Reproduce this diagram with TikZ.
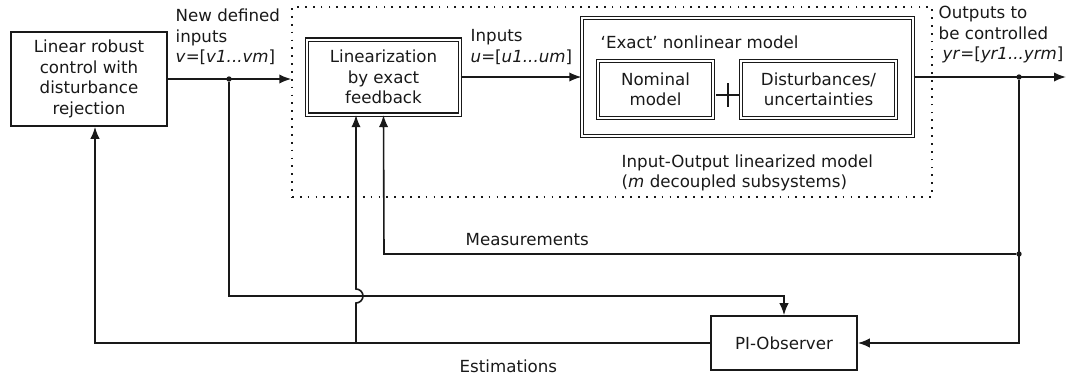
\documentclass[tikz,border=0pt]{standalone}
\usepackage{fontspec}
\setmainfont{DejaVu Sans}
\usetikzlibrary{positioning}
\usetikzlibrary{calc}
\usetikzlibrary{arrows.meta}
\tikzset{
    % Filled arrow heads, as in the drawing
    >={Latex[length=9pt, width=7pt]},
%
    % Plain block with a single border
    block/.style={draw, line width=1.2pt, align=center, inner sep=2pt},
%
    % Block with a double border
    double block/.style={draw, double, double distance=1.5pt,
        line width=0.9pt, align=center, inner sep=2pt},
%
    % Dotted frame round the linearized part
    dotted frame/.style={draw, line width=1.1pt, dash pattern=on 1.3pt off 4.6pt},
%
    % Branching point of a signal
    branch/.style={circle, fill, inner sep=0pt, minimum size=4pt},
%
    % Signal lines
    signal/.style={line width=1.2pt}}

\begin{document}
\begin{tikzpicture}[x=0.75pt, y=-0.75pt, color=black!90,
    font=\fontsize{12.5}{15.4}\selectfont]
\useasboundingbox (0,0) rectangle (1072,375);

% Controller on the left
\node [block, minimum width=117pt, minimum height=70.5pt]
    (control) at (89,79) {Linear robust\\control with\\disturbance\\rejection};
\node [anchor=west, align=left]
    (v label) at (171,37) {New defined\\inputs\\\textit{v}=[\textit{v1...vm}]};

% Input-output linearized part, framed by dots
\node [dotted frame, minimum width=480pt, minimum height=142.5pt]
    (io model) at (612,102) {};
\node [double block, minimum width=114.75pt, minimum height=56.25pt]
    (linearize) at (383.5,77) {Linearization\\by exact\\feedback};
\node [anchor=west, align=left]
    (u label) at (466,47) {Inputs\\\textit{u}=[\textit{u1...um}]};

% Exact model, nominal part plus uncertain part
\node [double block, minimum width=248.25pt, minimum height=88.5pt]
    (exact) at (747.5,77) {};
\node [anchor=west] (exact title) at (596,42) {‘Exact’ nonlinear model};
\node [double block, minimum width=86.25pt, minimum height=42.75pt]
    (nominal) at (655.5,89.5) {Nominal\\model};
\node [double block, minimum width=116.25pt, minimum height=42.75pt]
    (disturb) at (818.5,89.5) {Disturbances/\\uncertainties};
\coordinate (plus) at (728,95);
\draw [signal] ($(plus)+(-12,0)$) -- ($(plus)+(12,0)$)
    ($(plus)+(0,-12)$) -- ($(plus)+(0,12)$);
\node [anchor=west, align=left] (io label) at (617,173)
    {Input-Output linearized model\\(\textit{m} decoupled subsystems)};

% Outputs
\node [anchor=west, align=left] (y label) at (934,35)
    {Outputs to\\be controlled\\\hspace{3pt}\textit{yr}=[\textit{yr1...yrm}]};

% Observer
\node [block, minimum width=109.5pt, minimum height=40.5pt]
    (observer) at (784,343) {PI-Observer};

% Forward path
\draw [signal, ->] (control.east) -- (control.east -| io model.west);
\node [branch] (v split) at (229,79) {};
\draw [signal, ->] (linearize.east) -- (exact.west);
\node [branch] (y split) at (1019,77) {};
\coordinate (y end) at (1066,77);
\draw [signal, ->] (exact.east) -- (y end);

% Measurements back to the linearization
\node [branch] (m split) at (1019,254) {};
\coordinate (m corner) at (384,254);
\draw [signal, ->] (m split) -- (m corner) -- (linearize.south);
\node [anchor=west] (m label) at (461,240) {Measurements};

% Outputs and new inputs into the observer
\draw [signal, ->] (y split) |- (observer.east);
\coordinate (v corner) at (229,296);
\draw [signal, ->] (v split) -- (v corner) -| (observer.north);

% Estimations, jumping over the new inputs
\coordinate (e split) at (356,343);
\draw [signal, ->] (observer.west) -| ($(control.south)+(6,0)$);
\draw [signal, ->] (e split) -- ($(e split |- v corner)+(0,7)$)
    arc [start angle=90, end angle=-90, radius=7]
    -- ($(linearize.south)+(-27.5,0)$);
\node [anchor=west] (e label) at (455,366) {Estimations};

\end{tikzpicture}
\end{document}
